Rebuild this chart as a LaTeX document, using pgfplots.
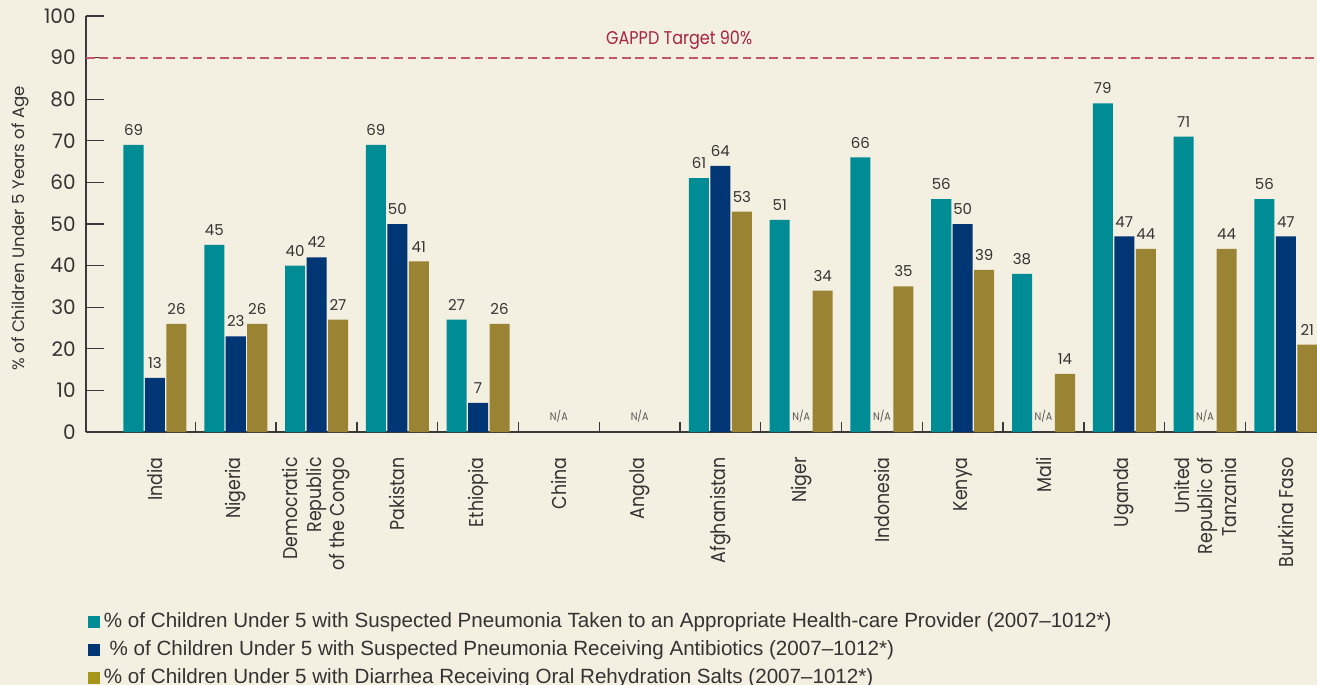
\documentclass[border=0pt]{standalone}
\usepackage{pgfplots}
\pgfplotsset{compat=1.18}
\usepackage{fontspec}
\setmainfont{Poppins}
\newfontfamily\fut[FakeStretch=0.87]{Poppins}
\newfontfamily\futw{Poppins}
\newfontfamily\leg{Liberation Sans}
\definecolor{bg}{HTML}{F4F0E1}
\definecolor{teal1}{HTML}{008C95}
\definecolor{navy1}{HTML}{003674}
\definecolor{gold1}{HTML}{9A8332}
\definecolor{legold}{HTML}{A6961C}
\definecolor{txt}{HTML}{333333}
\definecolor{axc}{HTML}{3A3A3A}
\definecolor{dashc}{HTML}{C4566B}
\definecolor{gapc}{HTML}{A8243F}
\definecolor{nac}{HTML}{555555}
\pgfplotsset{/pgf/number format/assume math mode=true}
\begin{document}
\begin{tikzpicture}
\fill[bg] (-43pt,-126.5pt) rectangle (615.5pt,216pt);
\begin{axis}[
  at={(0pt,0pt)}, anchor=south west,
  scale only axis, width=615.5pt, height=208pt,
  xmin=-0.854, xmax=14.386, ymin=0, ymax=100,
  ybar, clip=false,
  axis lines*=left,
  axis line style={draw=axc, line width=0.65pt, -},
  tick align=inside, major tick length=9pt, minor tick length=5pt,
  ytick={0,10,...,100},
  ytick style={draw=axc, line width=0.65pt},
  yticklabel style={font=\futw\fontsize{10}{11}\selectfont, text=txt, inner sep=0pt, xshift=-5pt},
  xtick={0,...,14},
  major x tick style={draw=none},
  minor xtick={0.5,1.5,...,13.5},
  minor x tick style={draw=axc, line width=0.65pt},
  xticklabels={India, Nigeria, {Democratic\\Republic\\of the Congo}, Pakistan, Ethiopia, China, Angola, Afghanistan, Niger, Indonesia, Kenya, Mali, Uganda, {United\\Republic of\\Tanzania}, Burkina Faso},
  xticklabel style={yshift=-12.5pt, rotate=90, anchor=east, align=right, inner sep=0pt, font=\fut\fontsize{10}{11.75}\selectfont, text=txt},
  ylabel={\% of Children Under 5 Years of Age},
  ylabel style={font=\futw\fontsize{8.3}{9}\selectfont, text=txt, at={(axis description cs:-0.0536,0.49)}, anchor=center},
  every node near coord/.append style={font=\futw\fontsize{7.5}{8}\selectfont, text=txt, inner sep=0pt, yshift=4.5pt},
  legend style={at={(axis description cs:0.0016,-0.434)}, anchor=north west, draw=none, fill=none, inner sep=0pt, outer sep=0pt, row sep=4.3pt, font=\leg\fontsize{10.3}{12}\selectfont, text=txt, nodes={inner sep=0pt, text height=7.5pt, text depth=2.2pt}},
  legend cell align=left,
]
\draw[dashc, line width=0.9pt, dash pattern=on 4.3pt off 2.4pt] (axis cs:-0.854,90) -- (axis cs:14.386,90);
\node[font=\fut\fontsize{9.2}{10}\selectfont, text=gapc] at (axis cs:6.49,94.2) {GAPPD Target 90\%};

\addplot[fill=teal1, draw=none, bar width=0.248, bar shift=-0.266, nodes near coords,
  legend image code/.code={\fill[teal1] (0pt,-3pt) rectangle (6pt,3pt);}]
  coordinates {(0,69) (1,45) (2,40) (3,69) (4,27) (7,61) (8,51) (9,66) (10,56) (11,38) (12,79) (13,71) (14,56)};
\addlegendentry{\hspace*{2pt}\% of Children Under 5 with Suspected Pneumonia Taken to an Appropriate Health-care Provider (2007–1012*)}

\addplot[fill=navy1, draw=none, bar width=0.248, bar shift=0, nodes near coords,
  legend image code/.code={\fill[navy1] (0pt,-3pt) rectangle (6pt,3pt);}]
  coordinates {(0,13) (1,23) (2,42) (3,50) (4,7) (7,64) (10,50) (12,47) (14,47)};
\addlegendentry{\hspace*{2pt}\ \% of Children Under 5 with Suspected Pneumonia Receiving Antibiotics (2007–1012*)}

\addplot[fill=gold1, draw=none, bar width=0.248, bar shift=0.266, nodes near coords,
  legend image code/.code={\fill[legold] (0pt,-3pt) rectangle (6pt,3pt);}]
  coordinates {(0,26) (1,26) (2,27) (3,41) (4,26) (7,53) (8,34) (9,35) (10,39) (11,14) (12,44) (13,44) (14,21)};
\addlegendentry{\hspace*{2pt}\% of Children Under 5 with Diarrhea Receiving Oral Rehydration Salts (2007–1012*)}

\addplot[forget plot, draw=none, fill=none, bar width=0.248, bar shift=0, nodes near coords={N/A},
  every node near coord/.append style={font=\fut\fontsize{5.5}{6}\selectfont, text=nac}]
  coordinates {(5,0) (6,0) (8,0) (9,0) (11,0) (13,0)};
\end{axis}
\pgfresetboundingbox
\path (-43pt,-126.5pt) rectangle (615.5pt,216pt);
\end{tikzpicture}
\end{document}
